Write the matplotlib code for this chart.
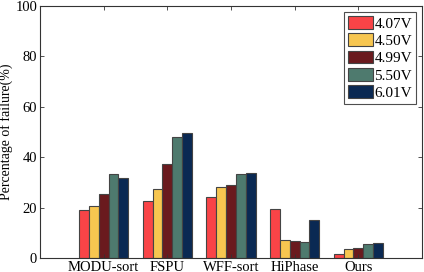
import matplotlib
matplotlib.use("Agg")
import matplotlib.pyplot as plt
import numpy as np

methods = ["MODU-sort", "FSPU", "WFF-sort", "HiPhase", "Ours"]
voltages = ["4.07V", "4.50V", "4.99V", "5.50V", "6.01V"]
v407 = [19.1, 22.5, 24.4, 19.5, 1.5]
v450 = [20.7, 27.2, 28.1, 7.2, 3.5]
v499 = [25.4, 37.2, 28.9, 6.6, 4.1]
v550 = [33.3, 48.1, 33.4, 6.2, 5.4]
v601 = [31.7, 49.8, 33.8, 15.1, 6.0]
series = [v407, v450, v499, v550, v601]
colors = ["#F94447", "#F7C650", "#6A1A1E", "#4E7A6E", "#0A2953"]

plt.rcParams['font.family'] = ['Liberation Serif', 'DejaVu Serif']
fig = plt.figure(figsize=(4.24, 2.72), dpi=100)
ax = fig.add_axes([40/424, 14/272, 382/424, 252/272])

x = np.arange(1, len(methods) + 1)
w = 0.154
for i, (vals, c, lab) in enumerate(zip(series, colors, voltages)):
    ax.bar(x + (i - 2) * w, vals, width=w, color=c, edgecolor="#444444",
           linewidth=0.8, label=lab)

ax.set_xlim(0, 6)
ax.set_ylim(0, 100)
ax.set_xticks(x)
ax.set_xticklabels(methods, fontsize=10.5)
ax.set_yticks([0, 20, 40, 60, 80, 100])
ax.tick_params(axis='both', direction='in', top=True, right=True, labelsize=10.5,
               length=3, width=0.6, color='#333333', pad=2)
ax.set_ylabel("Percentage of failure(%)", fontsize=10, labelpad=2)
for s in ax.spines.values():
    s.set_linewidth(0.8)
    s.set_color('#333333')

leg = ax.legend(loc='upper right', fontsize=11, frameon=True, fancybox=False,
                edgecolor='#222222', handlelength=1.6, handleheight=0.9,
                handletextpad=0.12, labelspacing=0.18, borderpad=0.25,
                borderaxespad=0.4)
leg.get_frame().set_linewidth(0.8)

fig.savefig("out.png", dpi=100)
